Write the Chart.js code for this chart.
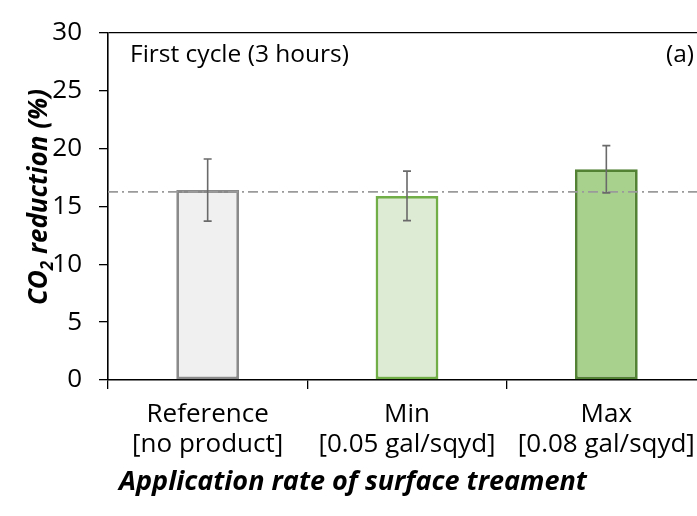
<!DOCTYPE html>
<html>
<head>
<meta charset="utf-8">
<script src="https://cdn.jsdelivr.net/npm/chart.js@4"></script>
<style>
  html, body { margin: 0; padding: 0; background: #fff; overflow: hidden; }
  #wrap { width: 697px; height: 516px; overflow: hidden; position: relative; }
  #box { width: 710px; height: 516px; position: absolute; left: 0; top: 0; }
</style>
</head>
<body>
<div id="wrap"><div id="box"><canvas id="c" width="710" height="516"></canvas></div></div>
<script>
// ---- data ----
const categories = [["Reference", "[no product]"], ["Min", "[0.05 gal/sqyd]"], ["Max", "[0.08 gal/sqyd]"]];
const co2Reduction = [16.4, 15.9, 18.2];
const errorValues = [2.68, 2.14, 2.04];
const referenceLevel = 16.25;
const yTicks = [0, 5, 10, 15, 20, 25, 30];
const yAxisTitle = ["CO", "2", " reduction (%)"];
const xAxisTitle = "Application rate of surface treament";
const panelNote = "First cycle (3 hours)";
const panelLabel = "(a)";

const barFills = ["#f0f0f0", "#deebd4", "#a9d18e"];
const barBorders = ["#8a8a8a", "#72ae48", "#548235"];
const FONT = "'Open Sans', 'Liberation Sans', sans-serif";

const overlay = {
  id: "overlay",
  afterDatasetsDraw(chart) {
    const { ctx, chartArea, scales } = chart;
    const y = scales.y;
    // reference dash-dot line
    ctx.save();
    ctx.strokeStyle = "#9a9a9a";
    ctx.lineWidth = 1.6;
    ctx.setLineDash([10, 4, 2, 4]);
    const ry = y.getPixelForValue(referenceLevel);
    ctx.beginPath();
    ctx.moveTo(chartArea.left, ry);
    ctx.lineTo(chartArea.right, ry);
    ctx.stroke();
    ctx.restore();

    // error bars
    const meta = chart.getDatasetMeta(0);
    ctx.save();
    ctx.strokeStyle = "#6a6a6a";
    ctx.lineWidth = 1.6;
    meta.data.forEach((bar, i) => {
      const v = co2Reduction[i], e = errorValues[i];
      const yt = y.getPixelForValue(v + e);
      const yb = y.getPixelForValue(v - e);
      const x = bar.x;
      ctx.beginPath();
      ctx.moveTo(x, yt); ctx.lineTo(x, yb);
      ctx.moveTo(x - 4, yt); ctx.lineTo(x + 4, yt);
      ctx.moveTo(x - 4, yb); ctx.lineTo(x + 4, yb);
      ctx.stroke();
    });
    ctx.restore();
  },
  afterDraw(chart) {
    const { ctx, chartArea } = chart;
    ctx.save();
    ctx.fillStyle = "#000";
    // panel texts
    ctx.font = "24.5px " + FONT;
    ctx.textBaseline = "middle";
    ctx.textAlign = "left";
    ctx.fillText(panelNote, chartArea.left + 22, 55);
    ctx.textAlign = "right";
    ctx.fillText(panelLabel, 694, 55);

    // x-axis title
    ctx.font = "italic bold 27px " + FONT;
    ctx.textAlign = "center";
    ctx.fillText(xAxisTitle, 353, 482);

    // y-axis title with subscript
    ctx.translate(38, 197);
    ctx.rotate(-Math.PI / 2);
    const big = "italic bold 26px " + FONT;
    const small = "italic bold 17px " + FONT;
    ctx.font = big;
    const w1 = ctx.measureText(yAxisTitle[0]).width;
    const w3 = ctx.measureText(yAxisTitle[2]).width;
    ctx.font = small;
    const w2 = ctx.measureText(yAxisTitle[1]).width;
    let x = -(w1 + w2 + w3) / 2;
    ctx.textAlign = "left";
    ctx.textBaseline = "alphabetic";
    ctx.font = big;
    ctx.fillText(yAxisTitle[0], x, 9); x += w1;
    ctx.font = small;
    ctx.fillText(yAxisTitle[1], x, 15); x += w2;
    ctx.font = big;
    ctx.fillText(yAxisTitle[2], x, 9);
    ctx.restore();
  }
};

new Chart(document.getElementById("c"), {
  type: "bar",
  data: {
    labels: categories,
    datasets: [{
      data: co2Reduction,
      backgroundColor: barFills,
      borderColor: barBorders,
      borderWidth: 2.8,
      borderSkipped: false,
      categoryPercentage: 1,
      barPercentage: 0.315
    }]
  },
  options: {
    responsive: false,
    animation: false,
    devicePixelRatio: 1,
    layout: { padding: { top: 20, right: 4, left: 0, bottom: 0 } },
    plugins: { legend: { display: false }, tooltip: { enabled: false }, title: { display: false } },
    scales: {
      x: {
        type: "category",
        offset: true,
        afterFit: s => { s.height = 136; },
        grid: { offset: true, drawOnChartArea: false, color: "#000", tickColor: "#000", tickLength: 9, lineWidth: 1.3 },
        border: { color: "#000", width: 1.6 },
        ticks: { color: "#000", padding: 10, maxRotation: 0, autoSkip: false, font: { family: FONT, size: 26, lineHeight: 1.17 } }
      },
      y: {
        min: 0, max: 30,
        afterFit: s => { s.width = 108; },
        afterBuildTicks: s => { s.ticks = yTicks.map(v => ({ value: v })); },
        grid: {
          drawOnChartArea: true,
          color: c => (c.tick && c.tick.value === 30 ? "#000" : "rgba(0,0,0,0)"),
          lineWidth: 1.3,
          tickColor: "#000",
          tickLength: 9
        },
        border: { color: "#000", width: 1.6 },
        ticks: { color: "#000", padding: 17, font: { family: FONT, size: 26 } }
      }
    }
  },
  plugins: [overlay]
});
</script>
</body>
</html>
